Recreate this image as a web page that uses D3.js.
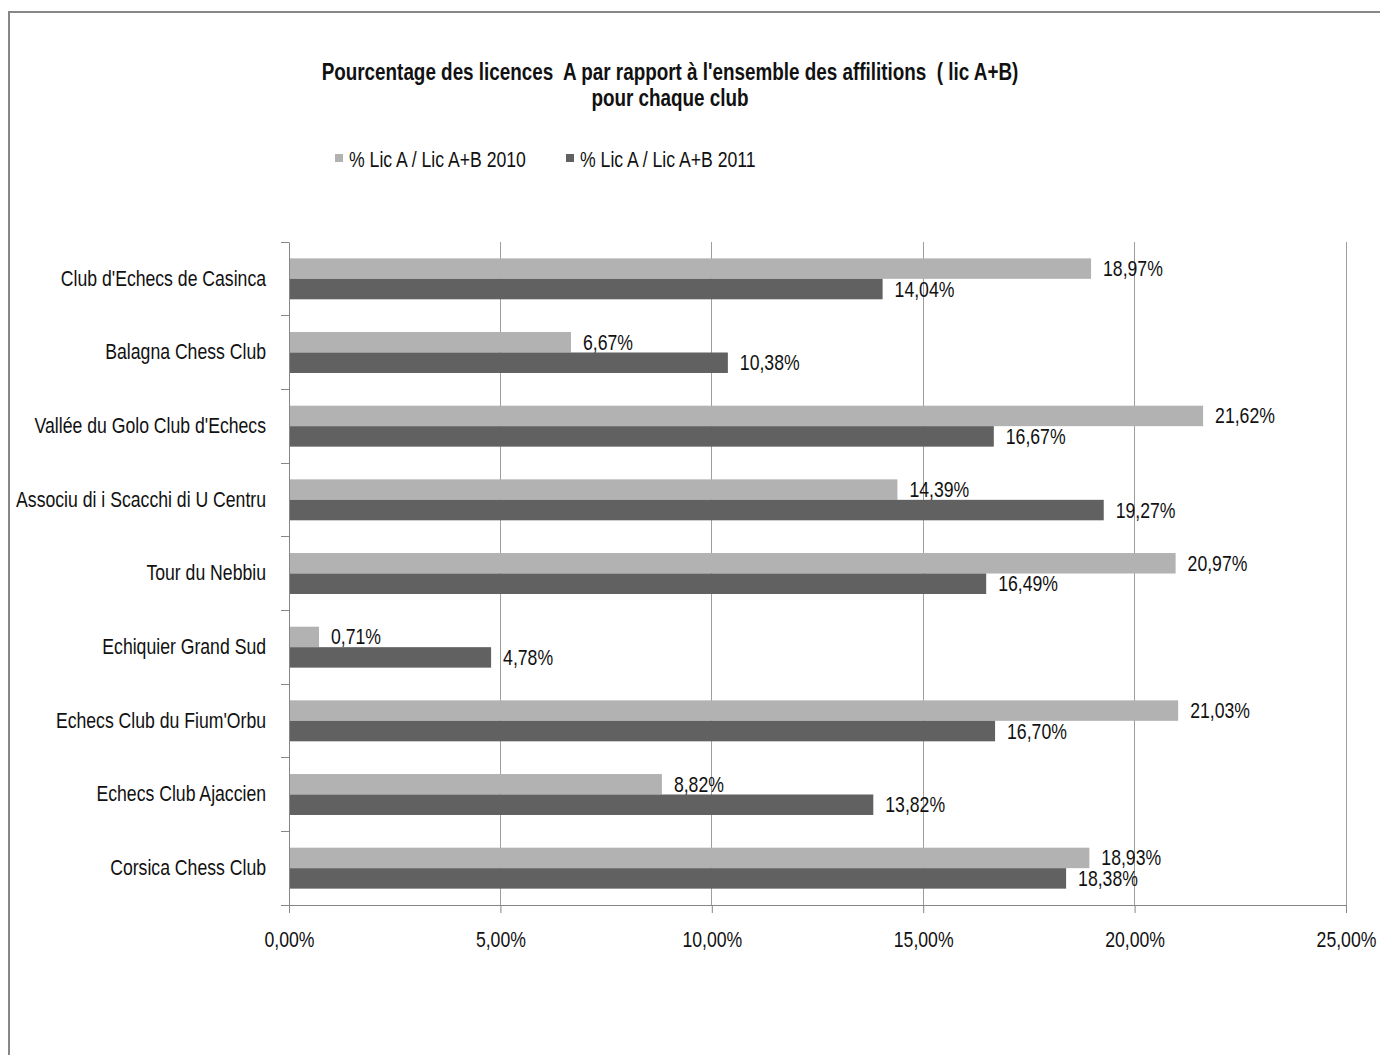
<!DOCTYPE html>
<html>
<head>
<meta charset="utf-8">
<script src="https://cdn.jsdelivr.net/npm/d3@7"></script>
<style>
html,body{margin:0;padding:0;background:#fff;}
svg{display:block;}
text{font-family:"Liberation Sans",Arial,sans-serif;fill:#111;white-space:pre;}
</style>
</head>
<body>
<svg id="chart" width="1380" height="1055"></svg>
<script>
const categories = [
  "Club d'Echecs de Casinca",
  "Balagna Chess Club",
  "Vallée du Golo Club d'Echecs",
  "Associu di i Scacchi di U Centru",
  "Tour du Nebbiu",
  "Echiquier Grand Sud",
  "Echecs Club du Fium'Orbu",
  "Echecs Club Ajaccien",
  "Corsica Chess Club"
];
const series2010 = [18.97, 6.67, 21.62, 14.39, 20.97, 0.71, 21.03, 8.82, 18.93];
const series2011 = [14.04, 10.38, 16.67, 19.27, 16.49, 4.78, 16.70, 13.82, 18.38];
const seriesNames = ["% Lic A / Lic A+B 2010", "% Lic A / Lic A+B 2011"];
const xTicks = [0, 5, 10, 15, 20, 25];
const titleLines = [
  "Pourcentage des licences  A par rapport à l'ensemble des affilitions  ( lic A+B)",
  "pour chaque club"
];

const colors = ["#b2b2b2", "#616161"];
const fmt = v => v.toFixed(2).replace(".", ",") + "%";
const FS = 21.5;

const svg = d3.select("#chart");
// outer chart border
svg.append("rect").attr("x", 9).attr("y", 12).attr("width", 1400).attr("height", 1100)
  .attr("fill", "none").attr("stroke", "#878787").attr("stroke-width", 2);

const pLeft = 289, pRight = 1346, pTop = 242, pBottom = 905;
const x = d3.scaleLinear().domain([0, 25]).range([pLeft, pRight]);
const y = d3.scaleBand().domain(categories).range([pTop, pBottom]).padding(0);
const bw = y.bandwidth() * 0.278;
const off = (y.bandwidth() - 2 * bw) / 2;

// title
svg.append("g").selectAll("text").data(titleLines).join("text")
  .attr("x", 670).attr("y", (d, i) => 72 + i * 26).attr("dy", "0.35em")
  .attr("text-anchor", "middle").attr("font-weight", "bold").attr("font-size", 23)
  .text(d => d);

// legend
const legX = [335, 566];
const leg = svg.append("g").selectAll("g").data(seriesNames).join("g")
  .attr("transform", (d, i) => `translate(${legX[i]},154)`);
leg.append("rect").attr("width", 8).attr("height", 8).attr("fill", (d, i) => colors[i]);
leg.append("text").attr("x", 14).attr("y", 5).attr("dy", "0.35em").attr("font-size", FS).text(d => d);

// gridlines
svg.append("g").selectAll("line").data(xTicks.slice(1)).join("line")
  .attr("x1", d => x(d)).attr("x2", d => x(d)).attr("y1", pTop).attr("y2", pBottom)
  .attr("stroke", "#9e9e9e").attr("stroke-width", 1).attr("shape-rendering", "crispEdges");

// bars
const groups = svg.append("g").selectAll("g").data(categories).join("g")
  .attr("transform", d => `translate(0,${y(d)})`);
[series2010, series2011].forEach((s, si) => {
  groups.append("rect")
    .attr("x", pLeft)
    .attr("y", off + si * bw)
    .attr("width", (d, i) => x(s[i]) - pLeft)
    .attr("height", bw)
    .attr("fill", colors[si]);
  groups.append("text")
    .attr("x", (d, i) => x(s[i]) + 12)
    .attr("y", off + si * bw + bw / 2)
    .attr("dy", "0.35em")
    .attr("font-size", FS)
    .text((d, i) => fmt(s[i]));
});

// y axis
const yAxis = svg.append("g").attr("transform", `translate(${pLeft},0)`)
  .call(d3.axisLeft(y).tickSize(0).tickPadding(23));
yAxis.select(".domain").attr("stroke", "#868686");
yAxis.selectAll("text").attr("font-size", FS).attr("fill", "#111")
  .attr("font-family", "'Liberation Sans',Arial,sans-serif");
const bounds = categories.map(c => y(c)).concat([pBottom]);
yAxis.append("g").selectAll("line").data(bounds).join("line")
  .attr("x1", -8).attr("x2", 0).attr("y1", d => d).attr("y2", d => d)
  .attr("stroke", "#868686").attr("shape-rendering", "crispEdges");

// x axis
const xAxis = svg.append("g").attr("transform", `translate(0,${pBottom})`)
  .call(d3.axisBottom(x).tickValues(xTicks).tickSize(8).tickSizeOuter(0).tickPadding(19)
    .tickFormat(d => fmt(d)));
xAxis.select(".domain").attr("stroke", "#868686");
xAxis.selectAll(".tick line").attr("stroke", "#868686");
xAxis.selectAll("text").attr("font-size", FS).attr("fill", "#111")
  .attr("font-family", "'Liberation Sans',Arial,sans-serif");

// condense all text horizontally (narrow face look)
svg.selectAll("text").each(function () {
  const w = this.getComputedTextLength();
  this.setAttribute("textLength", (w * 0.82).toFixed(1));
  this.setAttribute("lengthAdjust", "spacingAndGlyphs");
});
</script>
</body>
</html>
